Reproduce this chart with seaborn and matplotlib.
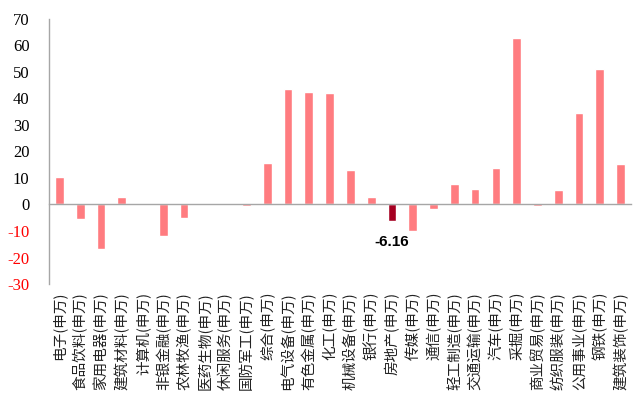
import matplotlib
matplotlib.use("Agg")
import matplotlib.pyplot as plt
import matplotlib.transforms as mtransforms
import numpy as np
import pandas as pd
import seaborn as sns

sectors = ["电子", "食品饮料", "家用电器", "建筑材料", "计算机", "非银金融", "农林牧渔",
           "医药生物", "休闲服务", "国防军工", "综合", "电气设备", "有色金属", "化工",
           "机械设备", "银行", "房地产", "传媒", "通信", "轻工制造", "交通运输", "汽车",
           "采掘", "商业贸易", "纺织服装", "公用事业", "钢铁", "建筑装饰"]
labels = [s + "(申万)" for s in sectors]
changes = [10.2, -5.4, -16.9, 3.0, 0.1, -12.0, -5.0,
           0.1, 0.1, -0.5, 15.8, 43.5, 42.4, 42.1,
           13.1, 2.8, -6.16, -9.9, -1.8, 7.7, 5.8, 13.7,
           63.0, -0.5, 5.5, 34.7, 51.2, 15.3]
highlight = "房地产"
y_ticks = [-30, -20, -10, 0, 10, 20, 30, 40, 50, 60, 70]

base_color = "#FF7C80"
focus_color = "#A50021"
axis_gray = "#A6A6A6"

sns.set_theme(style="white")
plt.rcParams["font.family"] = ["Noto Sans CJK SC", "DejaVu Sans"]

df = pd.DataFrame({"sector": labels, "change": changes})
palette = {lab: (focus_color if s == highlight else base_color)
           for lab, s in zip(labels, sectors)}

fig = plt.figure(figsize=(6.4, 3.96), dpi=100)
ax = fig.add_axes([49 / 640, 1 - 284 / 396, (631 - 49) / 640, (284 - 19) / 396])

sns.barplot(data=df, x="sector", y="change", hue="sector", palette=palette,
            legend=False, width=0.42, saturation=1, ax=ax)

n = len(labels)
ax.set_xlim(-0.5, n - 0.5)
ax.set_ylim(-30, 70)
ax.set_xlabel("")
ax.set_ylabel("")

# spines: left value axis and a category axis running through zero
for side in ("top", "right"):
    ax.spines[side].set_visible(False)
ax.spines["left"].set_color(axis_gray)
ax.spines["left"].set_linewidth(1.0)
ax.spines["bottom"].set_position(("data", 0))
ax.spines["bottom"].set_color(axis_gray)
ax.spines["bottom"].set_linewidth(1.0)

# category boundary ticks on the zero line
ax.set_xticks(np.arange(-0.5, n, 1.0))
ax.set_xticklabels([])
ax.tick_params(axis="x", direction="out", length=4, width=1.0, color=axis_gray)

# value axis ticks with red negatives
ax.set_yticks(y_ticks)
ax.set_yticklabels([str(v) for v in y_ticks])
ax.tick_params(axis="y", direction="out", length=5, width=1.0, color=axis_gray, pad=9)
for lab, v in zip(ax.get_yticklabels(), y_ticks):
    lab.set_fontfamily("Liberation Serif")
    lab.set_fontsize(12)
    lab.set_color("#FF0000" if v < 0 else "black")

# vertical sector names below the plotting area
trans = mtransforms.blended_transform_factory(ax.transData, ax.transAxes)
for i, lab in enumerate(labels):
    ax.text(i, -0.03, lab, transform=trans, rotation=90, ha="center", va="top",
            fontsize=10.5, color="#222222", family=["Noto Sans CJK SC", "DejaVu Sans"])

# value callout on the highlighted bar
idx = sectors.index(highlight)
ax.annotate(f"{changes[idx]:.2f}", xy=(idx, changes[idx]), xytext=(0, -10),
            textcoords="offset points", ha="center", va="top",
            fontsize=11, fontweight="bold", family="Liberation Sans", color="black")

fig.savefig("out.png", dpi=100)
